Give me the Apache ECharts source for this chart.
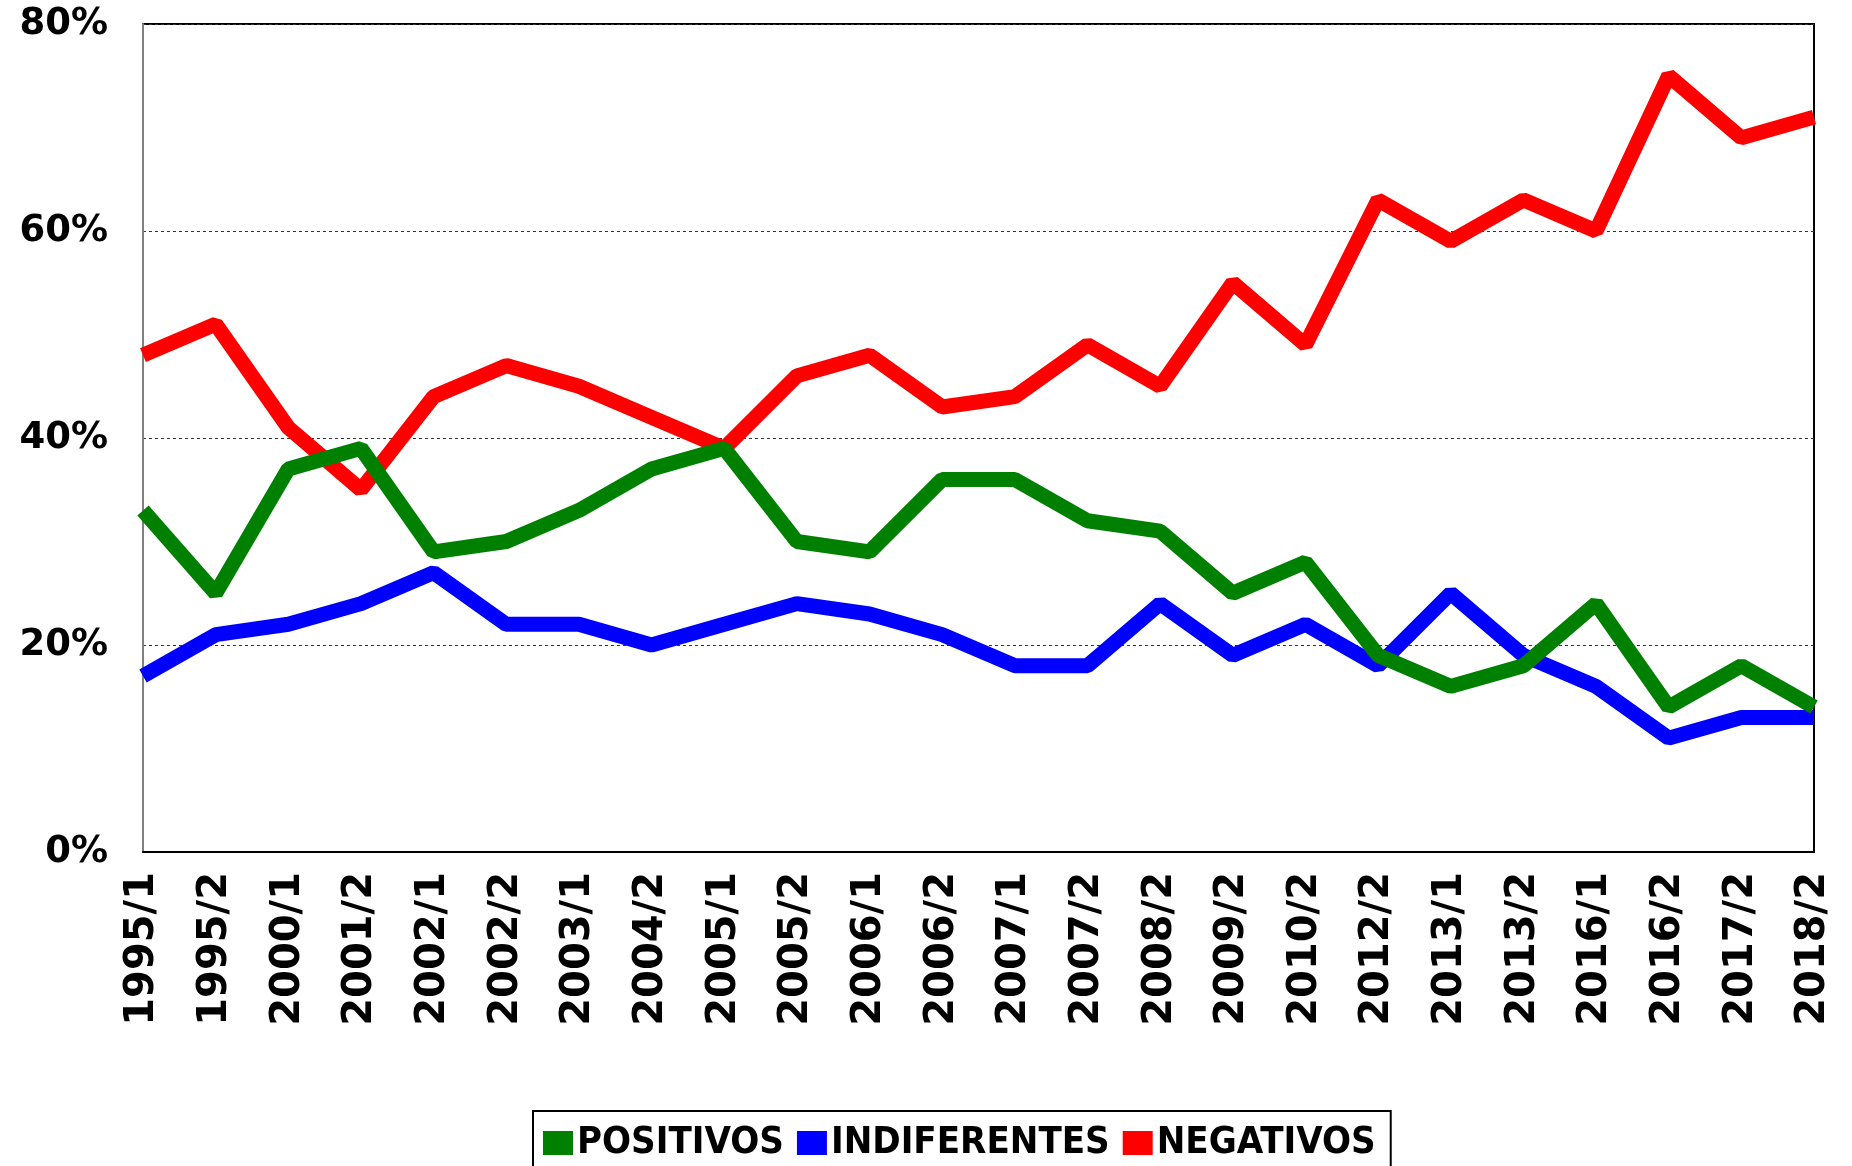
<!DOCTYPE html>
<html>
<head>
<meta charset="utf-8">
<script src="https://cdn.jsdelivr.net/npm/echarts@6/dist/echarts.min.js"></script>
<style>html,body{margin:0;padding:0;background:#fff;}#c{width:1852px;height:1166px;}</style>
</head>
<body>
<div id="c"></div>
<script>
const categories = ['1995/1','1995/2','2000/1','2001/2','2002/1','2002/2','2003/1','2004/2','2005/1','2005/2','2006/1','2006/2','2007/1','2007/2','2008/2','2009/2','2010/2','2012/2','2013/1','2013/2','2016/1','2016/2','2017/2','2018/2'];
const positivos = [33,25,37,39,29,30,33,37,39,30,29,36,36,32,31,25,28,19,16,18,24,14,18,14];
const indiferentes = [17,21,22,24,27,22,22,20,22,24,23,21,18,18,24,19,22,18,25,19,16,11,13,13];
const negativos = [48,51,41,35,44,47,45,42,39,46,48,43,44,49,45,55,49,63,59,63,60,75,69,71];
const yTicks = [0,20,40,60,80];

const chart = echarts.init(document.getElementById('c'));
const lw = 15;
chart.setOption({
  animation: false,
  backgroundColor: '#fff',
  grid: { left: 143, right: 38, top: 24, bottom: 314, show: true, borderColor: '#000', borderWidth: 2, containLabel: false },
  legend: {
    data: ['POSITIVOS','INDIFERENTES','NEGATIVOS'],
    left: 533, top: 1111,
    icon: 'rect', itemWidth: 30, itemHeight: 24, itemGap: 13,
    padding: [13, 15, 30, 10],
    borderColor: '#000', borderWidth: 2,
    textStyle: { fontFamily: 'DejaVu Sans Condensed', fontWeight: 'bold', fontSize: 38, color: '#000', padding: [0,0,0,-1] }
  },
  xAxis: {
    type: 'category', data: categories, boundaryGap: false,
    axisLine: { lineStyle: { color: '#000', width: 2 } },
    axisTick: { show: false },
    axisLabel: { rotate: 90, margin: 20, fontFamily: 'DejaVu Sans', fontWeight: 'bold', fontSize: 40, color: '#000', interval: 0 },
    splitLine: { show: false }
  },
  yAxis: {
    type: 'value', min: yTicks[0], max: yTicks[yTicks.length-1], interval: 20,
    axisLine: { show: true, lineStyle: { color: '#808080', width: 2 } },
    axisTick: { show: false },
    axisLabel: { margin: 35, fontFamily: 'DejaVu Sans', fontWeight: 'bold', fontSize: 37, color: '#000', formatter: v => v + '%' },
    splitLine: { show: true, lineStyle: { color: '#333', width: 1, type: [3,3] } }
  },
  series: [
    { name: 'NEGATIVOS', type: 'line', data: negativos, showSymbol: false, lineStyle: { color: '#FF0000', width: lw }, itemStyle: { color: '#FF0000' }, z: 2 },
    { name: 'INDIFERENTES', type: 'line', data: indiferentes, showSymbol: false, lineStyle: { color: '#0000FF', width: lw }, itemStyle: { color: '#0000FF' }, z: 3 },
    { name: 'POSITIVOS', type: 'line', data: positivos, showSymbol: false, lineStyle: { color: '#008000', width: lw }, itemStyle: { color: '#008000' }, z: 4 }
  ]
});
</script>
</body>
</html>
